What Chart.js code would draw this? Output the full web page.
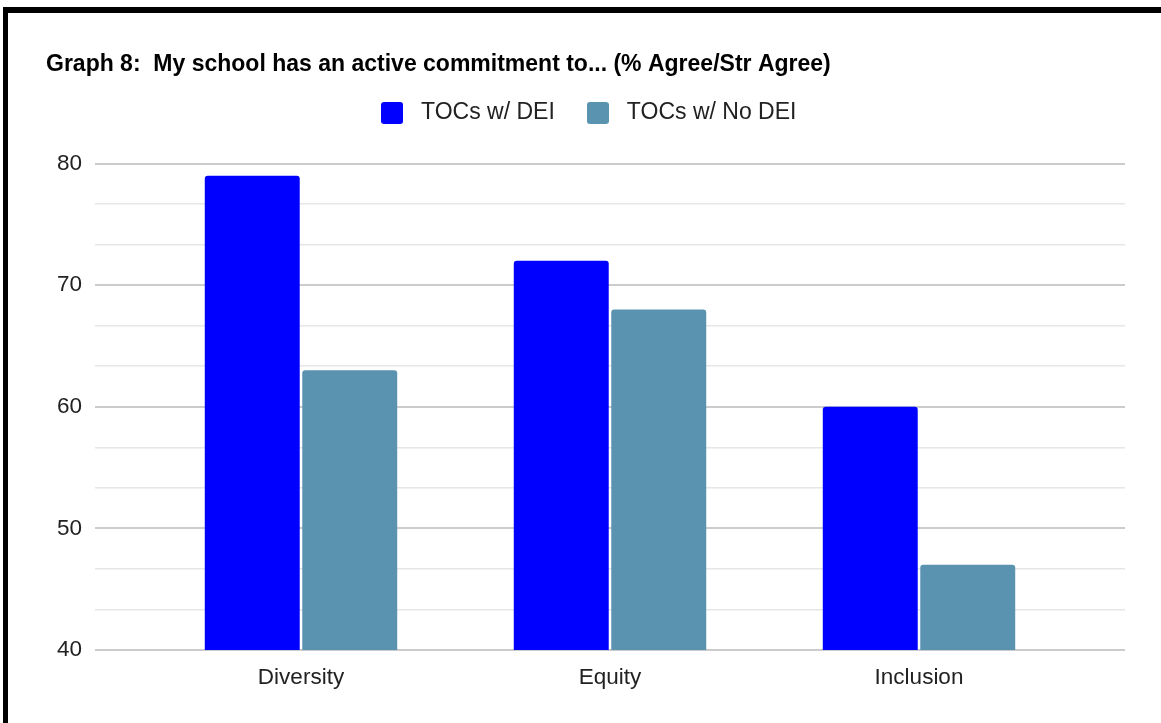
<!DOCTYPE html>
<html>
<head>
<meta charset="utf-8">
<title>Graph 8</title>
<script src="https://cdn.jsdelivr.net/npm/chart.js@4/dist/chart.umd.min.js"></script>
<style>
  html, body { margin: 0; padding: 0; background: #fff; overflow: hidden; }
  #chart { position: absolute; left: 0; top: 0; }
  .frame {
    position: absolute; left: 3px; top: 7px; right: -10px; bottom: -10px;
    border-left: 5px solid #000; border-top: 6px solid #000;
    pointer-events: none;
  }
</style>
</head>
<body>
<canvas id="chart" width="1161" height="723"></canvas>
<div class="frame"></div>
<script>
const categories = ['Diversity', 'Equity', 'Inclusion'];
const withDei = [79, 72, 60];
const withoutDei = [63, 68, 47];
const yTicks = [40, 50, 60, 70, 80];

const seriesColors = ['#0000ff', '#5a93b0'];

const toPoints = (vals) => vals.map((v, i) => ({ x: i, y: v }));

// major lines at each labelled tick, two lighter ones in between
function buildYTicks(scale) {
  const ticks = [];
  yTicks.forEach((v, i) => {
    ticks.push({ value: v, major: true });
    if (i < yTicks.length - 1) {
      const step = (yTicks[i + 1] - v) / 3;
      ticks.push({ value: v + step, major: false });
      ticks.push({ value: v + 2 * step, major: false });
    }
  });
  scale.ticks = ticks;
}

// small rounded square used as the legend marker
function legendSwatch(color) {
  const c = document.createElement('canvas');
  c.width = 22;
  c.height = 22;
  const g = c.getContext('2d');
  g.fillStyle = color;
  g.beginPath();
  g.roundRect(0, 0, 22, 22, 3);
  g.fill();
  return c;
}
const swatches = seriesColors.map(legendSwatch);

// more room between the legend and the plot
const legendGap = {
  id: 'legendGap',
  beforeInit(chart) {
    const fit = chart.legend.fit;
    chart.legend.fit = function () {
      fit.call(this);
      this.height += 29;
    };
  }
};

Chart.defaults.font.family = '"Liberation Sans", Arial, sans-serif';
Chart.defaults.color = '#222';

new Chart(document.getElementById('chart'), {
  type: 'bar',
  data: {
    datasets: [{
      label: 'TOCs w/ DEI',
      data: toPoints(withDei),
      backgroundColor: seriesColors[0],
      borderRadius: 3,
      categoryPercentage: 0.631,
      barPercentage: 0.974
    }, {
      label: 'TOCs w/ No DEI',
      data: toPoints(withoutDei),
      backgroundColor: seriesColors[1],
      borderRadius: 3,
      categoryPercentage: 0.631,
      barPercentage: 0.974
    }]
  },
  plugins: [legendGap],
  options: {
    responsive: false,
    animation: false,
    layout: { padding: { left: 46, right: 36, top: 0, bottom: 0 } },
    plugins: {
      title: {
        display: true,
        text: 'Graph 8:  My school has an active commitment to... (% Agree/Str Agree)',
        align: 'start',
        color: '#000',
        font: { size: 23, weight: 'bold', lineHeight: 1 },
        padding: { top: 53, bottom: 0 }
      },
      legend: {
        labels: {
          usePointStyle: true,
          pointStyleWidth: 35,
          padding: 25.5,
          font: { size: 23 },
          color: '#222',
          generateLabels(chart) {
            const items = Chart.defaults.plugins.legend.labels.generateLabels(chart);
            items.forEach((item, i) => { item.pointStyle = swatches[i]; });
            return items;
          }
        }
      },
      tooltip: { enabled: false }
    },
    scales: {
      x: {
        type: 'linear',
        offset: false,
        min: -2 / 3,
        max: 8 / 3,
        afterBuildTicks: (scale) => { scale.ticks = categories.map((c, i) => ({ value: i })); },
        afterFit: (scale) => { scale.height = 73; },
        grid: { display: false },
        border: { display: false },
        ticks: {
          autoSkip: false,
          maxRotation: 0,
          padding: 6,
          font: { size: 22.5 },
          color: '#222',
          callback: (v) => categories[v]
        }
      },
      y: {
        min: 40,
        max: 80,
        afterBuildTicks: buildYTicks,
        afterFit: (scale) => { scale.width = 49; },
        border: { display: false },
        grid: {
          drawTicks: false,
          color: (ctx) => ctx.tick && ctx.tick.major ? '#cccccc' : '#e6e6e6',
          lineWidth: (ctx) => ctx.tick && ctx.tick.major ? 2 : 1.5
        },
        ticks: {
          autoSkip: false,
          padding: 13,
          font: { size: 22.5 },
          color: '#222',
          callback: (v) => yTicks.includes(v) ? v : ''
        }
      }
    }
  }
});
</script>
</body>
</html>
